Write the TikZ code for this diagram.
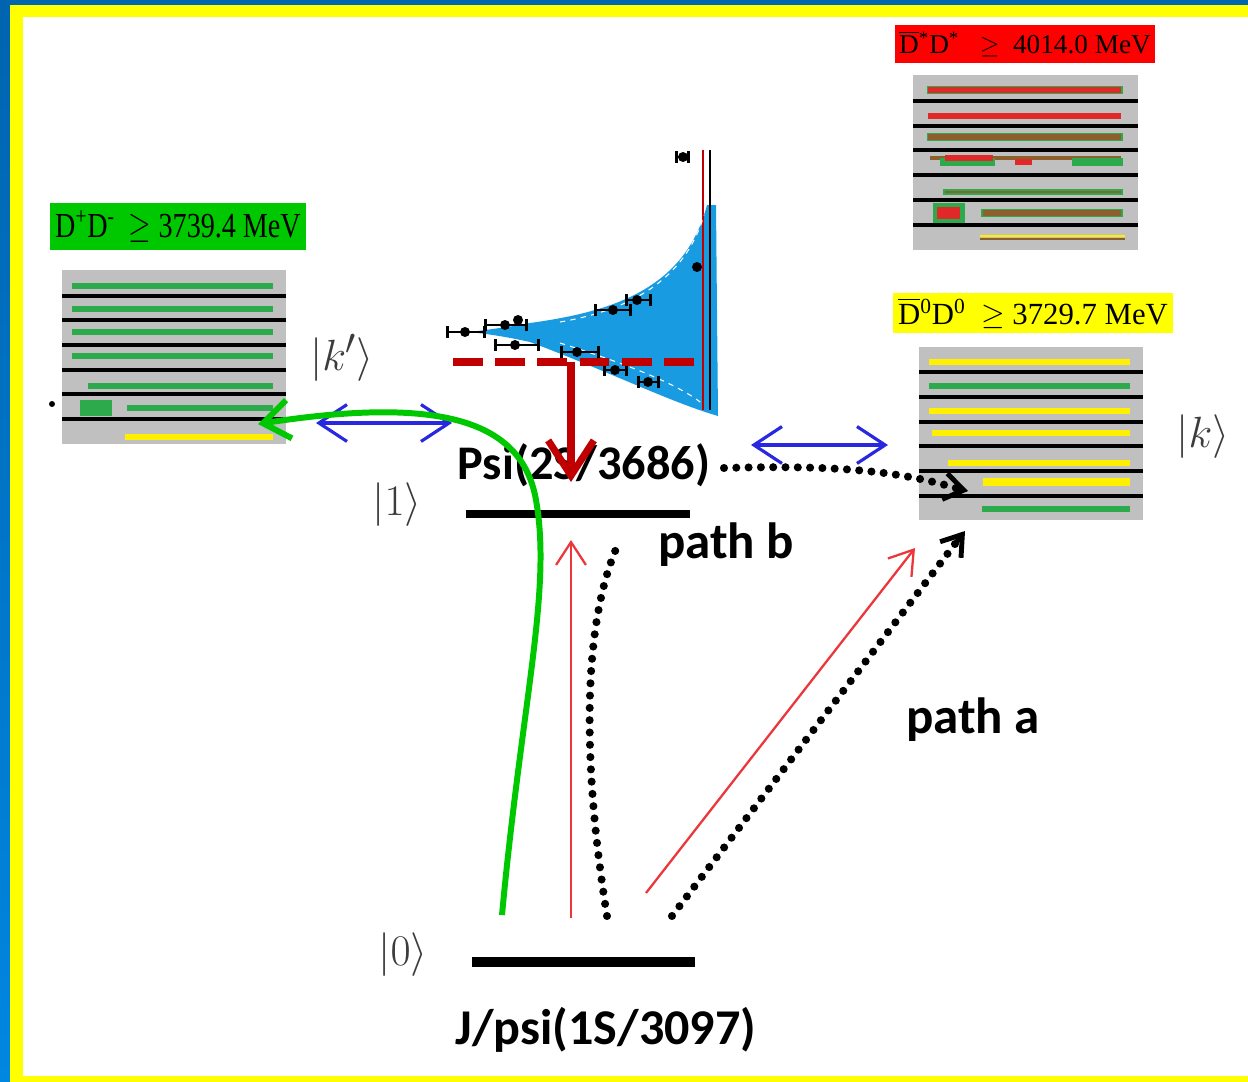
\documentclass[tikz,border=0pt]{standalone}
\usepackage{amsmath}
\usepackage{amssymb}
\usepackage{fontspec}
\setmainfont{Liberation Serif}
\newfontfamily\pathfont{Carlito}
\usepackage{tikz}
\usetikzlibrary{arrows.meta,calc}

\definecolor{frameBlue}{RGB}{0,100,175}
\definecolor{frameBlueL}{RGB}{0,135,225}
\definecolor{frameYellow}{RGB}{255,255,0}
\definecolor{boxGray}{RGB}{192,192,192}
\definecolor{barGreen}{RGB}{45,170,75}
\definecolor{barYellow}{RGB}{255,240,0}
\definecolor{barRed}{RGB}{225,40,40}
\definecolor{barBrown}{RGB}{140,95,45}
\definecolor{labelGreen}{RGB}{0,200,0}
\definecolor{labelRed}{RGB}{255,0,0}
\definecolor{darkRed}{RGB}{192,0,0}
\definecolor{thinRed}{RGB}{235,55,60}
\definecolor{arrowBlue}{RGB}{40,40,225}
\definecolor{curveGreen}{RGB}{0,200,0}
\definecolor{plotBlue}{RGB}{25,155,225}
\definecolor{ketGray}{RGB}{60,60,60}

\tikzset{
  levelbox/.style={fill=boxGray, inner sep=0pt},
  blackline/.style={line width=2.6pt},
  colbar/.style={line width=3.2pt},
  levelline/.style={line width=4.8pt},
  ket/.style={text=ketGray, font=\fontsize{31}{33}\selectfont},
  bigtext/.style={font=\pathfont\bfseries\fontsize{27.5}{29}\selectfont},
  pathtext/.style={font=\pathfont\bfseries\fontsize{29}{31}\selectfont},
  thinarrow/.style={thinRed, line width=1.3pt, -{Straight Barb[length=13pt, width=17pt, line width=1.3pt]}},
  dotline/.style={line width=4.6pt, line cap=round, dash pattern=on 0pt off 7pt},
  blueboth/.style={arrowBlue, line width=1.8pt, {Straight Barb[length=16pt, width=21pt]}-{Straight Barb[length=16pt, width=21pt]}},
  errbar/.style={line width=1.6pt, {|[width=7pt]}-{|[width=7pt]}}
}

\begin{document}
\begin{tikzpicture}[x=0.02cm, y=-0.02cm]
	\useasboundingbox (0,0) rectangle (1248,1082);
	% frame
	\fill[frameBlue] (0,0) rectangle (1248,5);
	\shade[top color=frameBlue, bottom color=frameBlueL] (0,0) rectangle (10,1082);
	\fill[frameYellow] (10,5) rectangle (1248,17);
	\fill[frameYellow] (10,5) rectangle (23,1082);
	\fill[frameYellow] (10,1076) rectangle (1248,1082);

	% threshold labels
	\node[fill=labelGreen, inner sep=0pt, minimum width=5.12cm, minimum height=0.94cm] (dpdm) at (178,226.5)
		{\scalebox{0.8}[1]{\fontsize{20}{22}\selectfont D\textsuperscript{+}D\textsuperscript{-}\ \ $\geq$ 3739.4 MeV}};
	\node[fill=labelRed, inner sep=0pt, minimum width=5.2cm, minimum height=0.76cm] (dsds) at (1025,44)
		{\fontsize{15.5}{17}\selectfont $\overline{\mbox{D}}$\textsuperscript{*}D\textsuperscript{*}\ \ \ $\geq$\ \ 4014.0 MeV};
	\node[fill=frameYellow, inner sep=0pt, minimum width=5.6cm, minimum height=0.8cm] (dzdz) at (1033,313)
		{\fontsize{17.5}{19}\selectfont $\overline{\mbox{D}}$\textsuperscript{0}D\textsuperscript{0}\ \ $\geq$\ 3729.7 MeV};

	% left continuum |k'>
	\node[levelbox, minimum width=4.48cm, minimum height=3.48cm] (kpbox) at (174,357) {};
	\foreach \y in {286,309,332,356} \draw[colbar, barGreen] (72,\y) -- (273,\y);
	\draw[colbar, barGreen] (88,386) -- (273,386);
	\draw[colbar, barGreen] (127,408) -- (273,408);
	\fill[barGreen] (80,400) rectangle (112,416);
	\draw[colbar, barYellow] (125,437) -- (273,437);
	\foreach \y in {296,320,345,370,394,419} \draw[blackline] (62,\y) -- (286,\y);
	\fill (52,404) circle (3);

	% upper right continuum
	\node[levelbox, minimum width=4.5cm, minimum height=3.5cm] (dsbox) at (1025.5,162.5) {};
	\draw[line width=4.6pt, barGreen] (927,90) -- (1123,90);
	\draw[colbar, barRed] (928,90) -- (1121,90);
	\draw[colbar, barRed] (928,116) -- (1121,116);
	\draw[line width=4.6pt, barGreen] (927,137) -- (1123,137);
	\draw[colbar, barBrown] (928,137) -- (1121,137);
	\draw[line width=2pt, barBrown] (930,158) -- (1121,158);
	\draw[line width=4pt, barGreen] (940,162) -- (995,162);
	\draw[line width=4pt, barGreen] (1072,162) -- (1123,162);
	\draw[line width=3pt, barRed] (945,158) -- (993,158);
	\fill[barRed] (1015,159) rectangle (1032,165);
	\draw[line width=3pt, barGreen] (943,192) -- (1123,192);
	\draw[line width=1.5pt, barBrown] (945,192) -- (1121,192);
	\draw[line width=4.6pt, barGreen] (981,213) -- (1123,213);
	\draw[colbar, barBrown] (983,213) -- (1121,213);
	\fill[barGreen] (933,203) rectangle (965,223);
	\fill[barRed] (937,207) rectangle (960,219);
	\draw[line width=1.6pt, barYellow] (980,236) -- (1125,236);
	\draw[line width=1.6pt, barBrown] (980,239) -- (1125,239);
	\foreach \y in {101,126,150,175,200,225} \draw[blackline] (913,\y) -- (1138,\y);

	% right continuum |k>
	\node[levelbox, minimum width=4.48cm, minimum height=3.46cm] (kbox) at (1031,433.5) {};
	\draw[colbar, barYellow] (929,362) -- (1130,362);
	\draw[colbar, barGreen] (929,386) -- (1130,386);
	\draw[colbar, barYellow] (929,411) -- (1130,411);
	\draw[colbar, barYellow] (932,433) -- (1130,433);
	\draw[colbar, barYellow] (948,463) -- (1130,463);
	\draw[line width=5pt, barYellow] (983,482) -- (1130,482);
	\draw[colbar, barGreen] (982,509) -- (1130,509);
	\foreach \y in {372,397,422,446,471,496} \draw[blackline] (919,\y) -- (1143,\y);

	% kets
	\node[ket] (ketkp) at (342,358) {$|k'\rangle$};
	\node[ket] (ketk) at (1203,437) {$|k\rangle$};
	\node[ket] (ketone) at (397,505) {$|1\rangle$};
	\node[ket] (ketzero) at (403,955) {$|0\rangle$};

	% levels
	\draw[levelline] (466,514) coordinate (l1w) -- (690,514) coordinate (l1e);
	\draw[levelline, line width=5.2pt] (472,962) coordinate (l0w) -- (695,962) coordinate (l0e);
	\node[bigtext] (psitwo) at (584,465) {Psi(2S/3686)};
	\node[bigtext, font=\pathfont\bfseries\fontsize{28.5}{30}\selectfont] (jpsi) at (606,1030) {J/psi(1S/3097)};
	\node[pathtext] (pathb) at (726,545) {path b};
	\node[pathtext] (patha) at (973,720) {path a};

	% line shape plot
	\fill[plotBlue] (478,331) .. controls (500,328) and (515,326) .. (530,323) .. controls (610,312) and (685,290) .. (707,205) -- (716,205) -- (718,416)
		.. controls (670,402) and (610,372) .. (530,342) .. controls (512,338) and (495,335) .. (478,333) -- cycle;
	\draw[darkRed, line width=1.4pt] (703,150) -- (703,410);
	\draw[line width=0.9pt] (710,150) -- (710,410);
	\draw[white, line width=0.6pt, dash pattern=on 3pt off 3pt] (560,322) .. controls (630,310) and (685,280) .. (704,215);
	\draw[white, line width=0.6pt, dash pattern=on 3pt off 3pt] (560,343) .. controls (630,365) and (680,385) .. (704,405);
	\draw[errbar] (446,332) -- (486,332);
	\draw[errbar] (484,325) -- (528,325);
	\draw[errbar] (494,345) -- (540,345);
	\draw[errbar] (560,352) -- (600,352);
	\draw[errbar] (594,310) -- (632,310);
	\draw[errbar] (625,300) -- (652,300);
	\draw[errbar] (603,370) -- (628,370);
	\draw[errbar] (637,382) -- (660,382);
	\draw[errbar] (675,157) -- (690,157);
	\foreach \p in {(465,332),(505,325),(518,320),(515,345),(577,352),(613,310),(637,300),(615,370),(648,382),(697,267),(683,157)}
		\fill \p circle (5);
	\draw[darkRed, line width=4.5pt, dash pattern=on 17pt off 7pt] (453,362) -- (695,362);
	\coordinate (cut) at (571,362);
	\coordinate (cutend) at (571,482);
	\draw[darkRed, line width=4pt, -{Straight Barb[length=20pt, width=26pt, line width=4pt]}] (cut) -- (cutend);

	% transitions
	\coordinate (a0) at (571,918);
	\coordinate (a1) at (571,540);
	\coordinate (b0) at (646,893);
	\coordinate (b1) at (915,548);
	\draw[thinarrow] (a0) -- (a1);
	\draw[thinarrow] (b0) -- (b1);
	\coordinate (pb0) at (607,916);
	\coordinate (pb1) at (620,540);
	\draw[dotline] (pb0) .. controls (582,760) and (582,620) .. (pb1);
	\coordinate (pc0) at (724,468);
	\coordinate (pc1) at (962,490);
	\draw[dotline] (pc0) .. controls (830,465) and (900,470) .. (pc1);
	\draw[line width=2.8pt, -{Straight Barb[length=11pt, width=15pt, line width=2.8pt]}] ($(pc1)+(-4,-1)$) -- (968,491);
	\coordinate (pa0) at (672,916);
	\coordinate (pa1) at (958,540);
	\draw[dotline] (pa0) -- (pa1);
	\draw[line width=2.8pt, -{Straight Barb[length=11pt, width=15pt, line width=2.8pt]}] ($(pa1)+(-3,4)$) -- (965,531);

	% coupling to continua
	\draw[blueboth] (316,423) -- (452,423);
	\draw[blueboth] (751,445) -- (888,445);
	\coordinate (g0) at (502,915);
	\coordinate (g1) at (258,424);
	\draw[curveGreen, line width=3.4pt, -{Straight Barb[length=15pt, width=22pt, line width=3.4pt]}]
		(g0) .. controls (522,700) and (552,590) .. (536,500) .. controls (522,420) and (440,396) .. (g1);
\end{tikzpicture}
\end{document}
